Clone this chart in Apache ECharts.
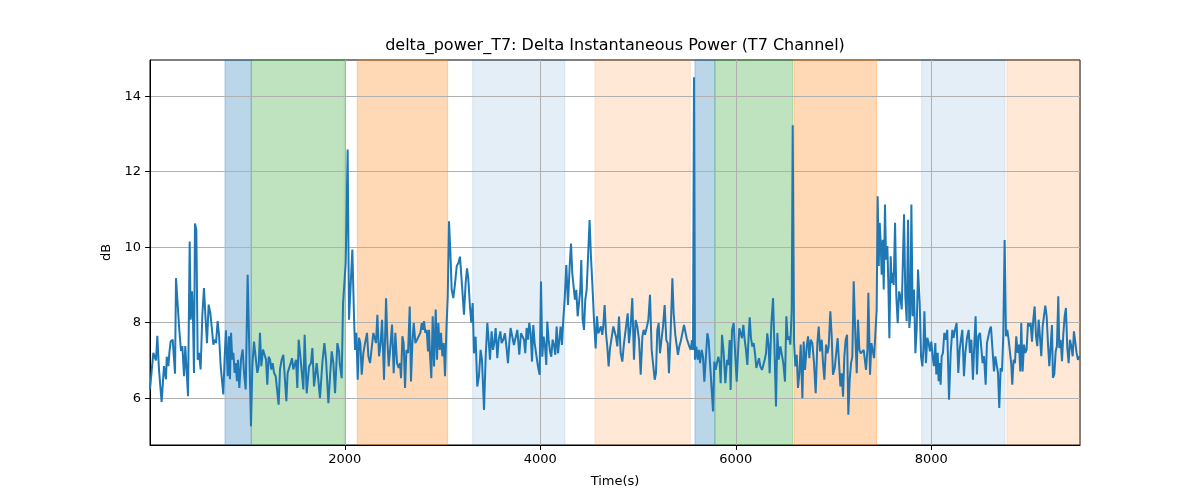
<!DOCTYPE html>
<html><head><meta charset="utf-8">
<script src="https://cdn.jsdelivr.net/npm/echarts@6/dist/echarts.min.js"></script>
<style>html,body{margin:0;padding:0;background:#fff}#c{width:1200px;height:500px}</style>
</head><body><div id="c"></div>
<script>
const chartTitle = 'delta_power_T7: Delta Instantaneous Power (T7 Channel)';
const xName = 'Time(s)';
const yName = 'dB';
const xTicks = [2000, 4000, 6000, 8000];
const yTicks = [6, 8, 10, 12, 14];
const xRange = [7, 9521];
const yRange = [4.76, 14.96];

const times = [
7,41,58,68,82,99,126,150,171,178,195,205,218,239,253,263,273,290,307,324,338,355,368,396,413,423,437,447,457,467,481,495,508,525,542,559,576,590,607,624,638,655,672,682,699,713,730,757,771,784,802,815,825,836,849,860,873,883,897,907,921,938,955,969,986,1006,1023,1040,1054,1071,1091,1105,1119,1132,1146,1163,1180,1194,1207,1221,1235,1248,1262,1276,1293,1310,1323,1337,1354,1371,1385,1402,1415,1432,1446,1460,1473,1487,1501,1514,1528,1542,1559,1576,1589,
1610,1634,1654,1668,1685,1712,1729,1746,1770,1791,1808,1832,1849,1866,1883,1900,1924,1941,1948,1968,1982,1995,2009,2029,2043,2057,2077,2094,2105,2118,2132,2145,2159,2173,2190,2207,2227,2241,2258,2275,2292,2309,2319,2333,2350,2367,2381,2401,2422,2435,2449,2466,2483,2500,2517,2534,2551,2565,2575,2589,2602,2616,2630,2647,2664,2677,2691,2705,2722,2739,2756,2773,2787,2800,2810,2824,2838,2851,2862,2872,2885,2899,2913,2930,2943,2957,2971,2984,2998,3012,3025,3039,3053,3066,3080,3093,3110,3128,3145,3162,
3178,3188,3202,3219,3236,3250,3263,3280,3294,3308,3321,3338,3355,3372,3389,3403,3424,3441,3458,3471,3485,3502,3516,3529,3543,3560,3574,3591,3604,3621,3638,3655,3669,3683,3696,3713,3730,3747,3765,3785,3802,3819,3833,3846,3860,3874,3887,3901,3915,3928,3942,3959,3976,3993,4007,4020,4034,4048,4061,4071,4085,4099,4112,4126,4140,4153,4167,4181,4194,4208,4221,4235,4249,4266,4283,4300,4314,4327,4341,4354,4368,4382,4395,4409,4419,4433,4447,4460,4474,4487,4504,4518,4532,4549,4566,4580,4593,4607,4620,4634,4644,4658,4672,4685,4699,4713,4730,4747,4760,
4774,4788,4805,4822,4839,4856,4873,4894,4907,4924,4941,4958,4975,4992,5010,5027,5044,5057,5071,5091,5105,5122,5139,5153,5170,5183,5197,5211,5224,5241,5255,5272,5289,5303,5316,5333,5351,5364,5381,5395,5408,5422,5436,5453,5470,5484,5497,5511,5524,5538,5552,5562,5572,5582,5596,5610,5623,5634,5651,5664,5678,5692,5709,5722,5736,5750,5767,5780,5794,5807,5821,5835,5845,5859,5876,5893,5910,5923,5937,5947,5961,5978,5995,6009,6022,6036,6050,6063,6077,6091,6104,6118,6131,6142,6155,6169,6183,6196,6210,6223,6237,6251,6268,6281,6295,6309,6322,6336,6346,
6364,6381,6394,6411,6425,6439,6456,6473,6486,6503,6517,6531,6544,6558,6572,6582,6596,6609,6623,6636,6650,6664,6681,6694,6708,6725,6739,6752,6766,6783,6800,6817,6834,6848,6862,6879,6892,6906,6923,6937,6950,6967,6981,6994,7012,7025,7042,7056,7070,7083,7097,7110,7124,7138,7151,7165,7179,7192,7206,7223,7237,7250,7264,7278,7295,7308,7322,7332,7346,7356,7373,7387,7400,7414,7428,7441,7451,7462,7472,7482,7492,7503,7513,7526,7537,7550,7561,7571,7584,7595,7605,7615,7629,7642,7656,7670,7683,7697,7711,7721,7734,7748,7762,7775,7786,7796,7809,7823,7837,7850,7864,7881,7895,7908,7919,7929,
7945,7959,7973,7986,8000,8013,8027,8041,8051,8065,8075,8085,8095,8106,8119,8133,8146,8163,8181,8198,8215,8228,8242,8259,8276,8290,8303,8317,8334,8348,8365,8382,8395,8409,8426,8440,8453,8467,8481,8498,8511,8525,8539,8556,8569,8583,8597,8610,8627,8641,8655,8668,8682,8695,8709,8723,8736,8750,8764,8777,8791,8805,8818,8828,8842,8856,8869,8883,8897,8910,8920,8934,8948,8961,8975,8989,9002,9016,9030,9043,9057,9071,9084,9098,9111,9125,9139,9152,9166,9180,9193,9207,9221,9234,9244,9258,9272,9285,9299,9309,9323,9337,9350,9364,9377,9391,9405,9418,9432,9446,9459,9473,9486,9500,9517
];

const deltaPower = [
6.23,7.2,7.25,7.0,7.65,6.75,5.9,6.85,6.5,7.1,6.85,7.2,7.5,7.55,7.6,6.65,9.18,9.14,7.8,7.25,7.38,6.58,7.38,6.05,10.15,8.08,8.83,8.08,6.67,10.63,10.46,7.02,7.2,6.76,8.17,8.92,8.08,7.46,8.48,8.26,7.9,7.42,7.55,7.46,8.04,7.68,6.85,6.1,7.1,7.8,6.58,7.64,6.5,7.73,7.02,7.2,6.67,6.93,6.45,7.02,6.27,7.02,7.29,6.67,6.23,9.27,7.29,5.26,6.85,7.5,7.55,6.67,6.85,7.73,6.85,7.29,7.25,7.02,6.36,7.1,7.02,6.76,6.93,6.67,6.58,6.58,5.83,6.76,7.02,7.15,6.58,5.92,6.67,6.71,6.93,7.06,6.76,6.71,7.02,6.27,7.55,7.2,7.25,6.23,7.68,
6.13,6.84,6.93,7.33,6.31,6.93,6.49,6.0,6.93,7.46,7.02,5.87,6.58,7.24,6.93,6.13,7.46,7.24,6.93,6.53,8.52,8.57,9.58,12.59,8.08,8.08,9.94,8.17,7.28,7.73,6.49,7.6,7.46,6.62,7.2,7.46,7.73,7.11,6.93,6.93,7.73,7.73,7.46,8.21,7.11,7.46,8.08,6.49,8.65,7.55,6.84,7.37,7.95,6.66,7.73,6.93,6.8,6.93,6.53,7.64,7.46,6.27,7.28,7.2,8.43,6.44,7.46,7.99,7.46,7.42,7.64,7.73,7.99,7.81,8.04,7.73,7.81,7.24,7.81,7.11,6.53,8.17,6.84,8.35,7.02,7.99,7.28,7.73,7.11,7.46,6.58,7.81,8.7,10.69,9.85,8.88,8.65,9.05,9.5,9.58,
9.75,9.7,8.87,8.21,9.05,9.44,9.18,8.43,8.0,8.52,7.19,7.63,6.31,6.58,7.28,7.02,5.69,7.1,8.0,7.55,7.02,7.77,7.28,7.46,7.86,7.06,7.55,7.77,7.46,7.55,7.72,7.32,6.93,7.46,7.86,7.86,7.41,7.41,7.81,7.15,7.72,7.72,7.55,7.19,7.86,7.55,8.0,7.72,6.97,7.94,7.46,7.15,6.84,6.62,9.09,7.1,7.63,7.37,6.88,8.03,7.55,7.24,7.1,7.55,7.41,7.15,7.9,7.19,7.19,7.9,7.41,8.08,8.61,9.53,8.47,9.49,10.1,9.31,9.36,8.61,8.87,8.17,8.17,8.87,9.66,8.08,7.81,8.61,8.87,9.66,10.72,9.75,9.05,8.08,7.32,8.17,7.72,7.68,7.9,7.68,7.9,8.47,7.72,7.37,6.84,7.32,7.32,7.9,7.94,
7.63,7.37,8.16,7.19,6.97,7.46,7.46,8.25,7.46,7.9,8.65,7.02,8.07,7.9,7.54,6.62,7.63,7.81,7.68,7.9,8.07,8.74,7.28,7.28,6.49,6.66,7.81,7.99,7.19,7.19,7.9,8.47,7.54,7.46,6.66,7.72,9.18,8.25,7.68,7.68,7.15,7.37,7.5,7.54,7.94,7.94,7.59,7.63,7.37,7.28,7.54,7.28,14.5,7.02,7.37,7.02,7.28,6.93,7.28,7.1,6.44,6.49,7.72,7.54,6.93,6.93,5.65,6.97,6.75,6.93,7.1,6.93,6.4,7.68,7.19,6.4,7.02,6.88,7.54,6.22,7.81,7.99,7.1,6.44,7.19,7.85,7.81,7.59,7.94,7.54,7.28,6.88,7.63,8.14,7.59,7.37,7.46,7.19,6.8,6.8,7.06,6.84,6.75,6.8,7.02,7.19,7.72,7.37,6.66,
7.99,8.65,7.46,5.78,7.73,7.02,7.37,7.42,6.93,6.44,8.17,7.55,7.64,7.42,8.35,13.23,7.46,6.84,7.15,6.27,6.66,7.42,6.0,7.5,6.75,7.37,7.64,7.06,7.55,7.46,6.93,6.13,7.46,7.9,7.24,7.55,6.93,6.49,7.42,7.19,7.37,8.3,7.64,6.62,6.8,6.75,7.59,6.93,6.31,6.66,6.04,7.1,7.55,7.68,5.56,6.49,6.93,7.1,9.1,7.64,6.66,8.08,7.28,7.19,7.24,7.28,7.24,6.75,7.28,8.79,6.62,7.46,7.46,7.06,7.1,8.35,11.35,9.5,10.65,10.12,9.27,10.2,8.88,11.13,9.67,10.03,8.96,7.59,9.76,9.05,9.32,9.0,10.65,8.7,7.99,8.83,8.7,8.35,8.3,10.87,8.7,8.04,10.73,7.86,8.26,11.13,8.17,8.88,7.19,7.81,9.41,8.52,7.1,6.84,7.28,8.3,
6.93,7.6,7.46,7.24,7.5,7.11,6.85,7.46,6.63,7.2,6.45,6.93,6.36,7.11,7.2,7.73,7.55,7.81,5.96,7.2,7.81,7.6,7.81,7.99,6.67,7.29,7.55,7.81,6.58,7.2,7.6,7.81,7.2,7.55,6.49,7.46,8.17,6.63,7.64,7.73,7.73,6.93,7.11,6.36,7.46,7.42,7.81,7.9,7.9,6.71,7.11,7.11,6.67,5.74,6.8,6.71,7.64,10.19,7.64,7.81,7.55,7.5,6.89,6.36,7.02,6.93,7.64,7.2,7.42,6.71,7.99,6.71,7.42,7.2,7.29,7.99,7.9,7.99,7.5,8.08,8.43,7.64,7.38,8.08,7.64,7.11,7.9,7.94,8.45,8.17,7.46,6.85,7.38,7.94,6.54,6.63,7.24,7.38,8.7,7.33,7.55,6.98,7.68,8.17,8.39,7.33,6.93,7.55,7.38,7.11,7.77,7.81,7.2,7.02,7.11
];

// shaded intervals: [start, end, kind]
const regions = [
  [774, 1043, 'blueStrong'],
  [1043, 1996, 'green'],
  [2128, 3052, 'orangeStrong'],
  [3308, 4252, 'blueLight'],
  [4559, 5534, 'orangeLight'],
  [5582, 5786, 'blueStrong'],
  [5786, 6581, 'green'],
  [6595, 7441, 'orangeStrong'],
  [7901, 8754, 'blueLight'],
  [8774, 9521, 'orangeLight']
];

const kindStyle = {
  blueStrong: 'rgba(31,119,180,0.3)',
  green: 'rgba(44,160,44,0.3)',
  orangeStrong: 'rgba(255,127,14,0.3)',
  blueLight: 'rgba(31,119,180,0.12)',
  orangeLight: 'rgba(255,127,14,0.17)'
};

const font = 'DejaVu Sans';
const seriesData = times.map((t, i) => [t, deltaPower[i]]);
const areaData = regions.map(r => [
  { xAxis: r[0], itemStyle: { color: kindStyle[r[2]], borderColor: kindStyle[r[2]], borderWidth: 1 } },
  { xAxis: r[1] }
]);

const chart = echarts.init(document.getElementById('c'), null, { renderer: 'canvas' });
chart.setOption({
  animation: false,
  backgroundColor: '#fff',
  grid: { left: 150, right: 120, top: 60, bottom: 55, show: true, borderColor: '#000', borderWidth: 1, backgroundColor: 'transparent' },
  graphic: [{
    type: 'text', x: 615, y: 46, z: 10,
    style: { text: chartTitle, fontFamily: font, fontSize: 16, fill: '#000', textAlign: 'center', textVerticalAlign: 'middle' }
  }],
  xAxis: {
    type: 'value', min: xRange[0], max: xRange[1], z: 2,
    name: xName, nameLocation: 'middle', nameGap: 30,
    nameTextStyle: { fontFamily: font, fontSize: 13, color: '#000' },
    axisLine: { show: true, onZero: false, lineStyle: { color: '#000', width: 1 } },
    axisTick: { show: true, length: 5, customValues: xTicks, lineStyle: { color: '#000' } },
    axisLabel: { customValues: xTicks, formatter: v => String(v), fontFamily: font, fontSize: 13, color: '#000', margin: 8 },
    splitLine: { show: true, lineStyle: { color: '#b0b0b0', width: 1 } }
  },
  yAxis: {
    type: 'value', min: yRange[0], max: yRange[1], z: 2,
    name: yName, nameLocation: 'middle', nameGap: 27,
    nameTextStyle: { fontFamily: font, fontSize: 13, color: '#000' },
    axisLine: { show: true, lineStyle: { color: '#000', width: 1 } },
    axisTick: { show: true, length: 5, customValues: yTicks, lineStyle: { color: '#000' } },
    axisLabel: { customValues: yTicks, formatter: v => String(v), fontFamily: font, fontSize: 13, color: '#000', margin: 9 },
    splitLine: { show: true, lineStyle: { color: '#b0b0b0', width: 1 } }
  },
  series: [
    {
      type: 'line', data: [], z: 1, silent: true,
      markArea: { silent: true, z: 1, data: areaData }
    },
    {
      type: 'line', data: seriesData, z: 3, showSymbol: false, symbol: 'none',
      lineStyle: { color: '#1f77b4', width: 2 }, itemStyle: { color: '#1f77b4' }
    }
  ]
});
</script>
</body></html>
